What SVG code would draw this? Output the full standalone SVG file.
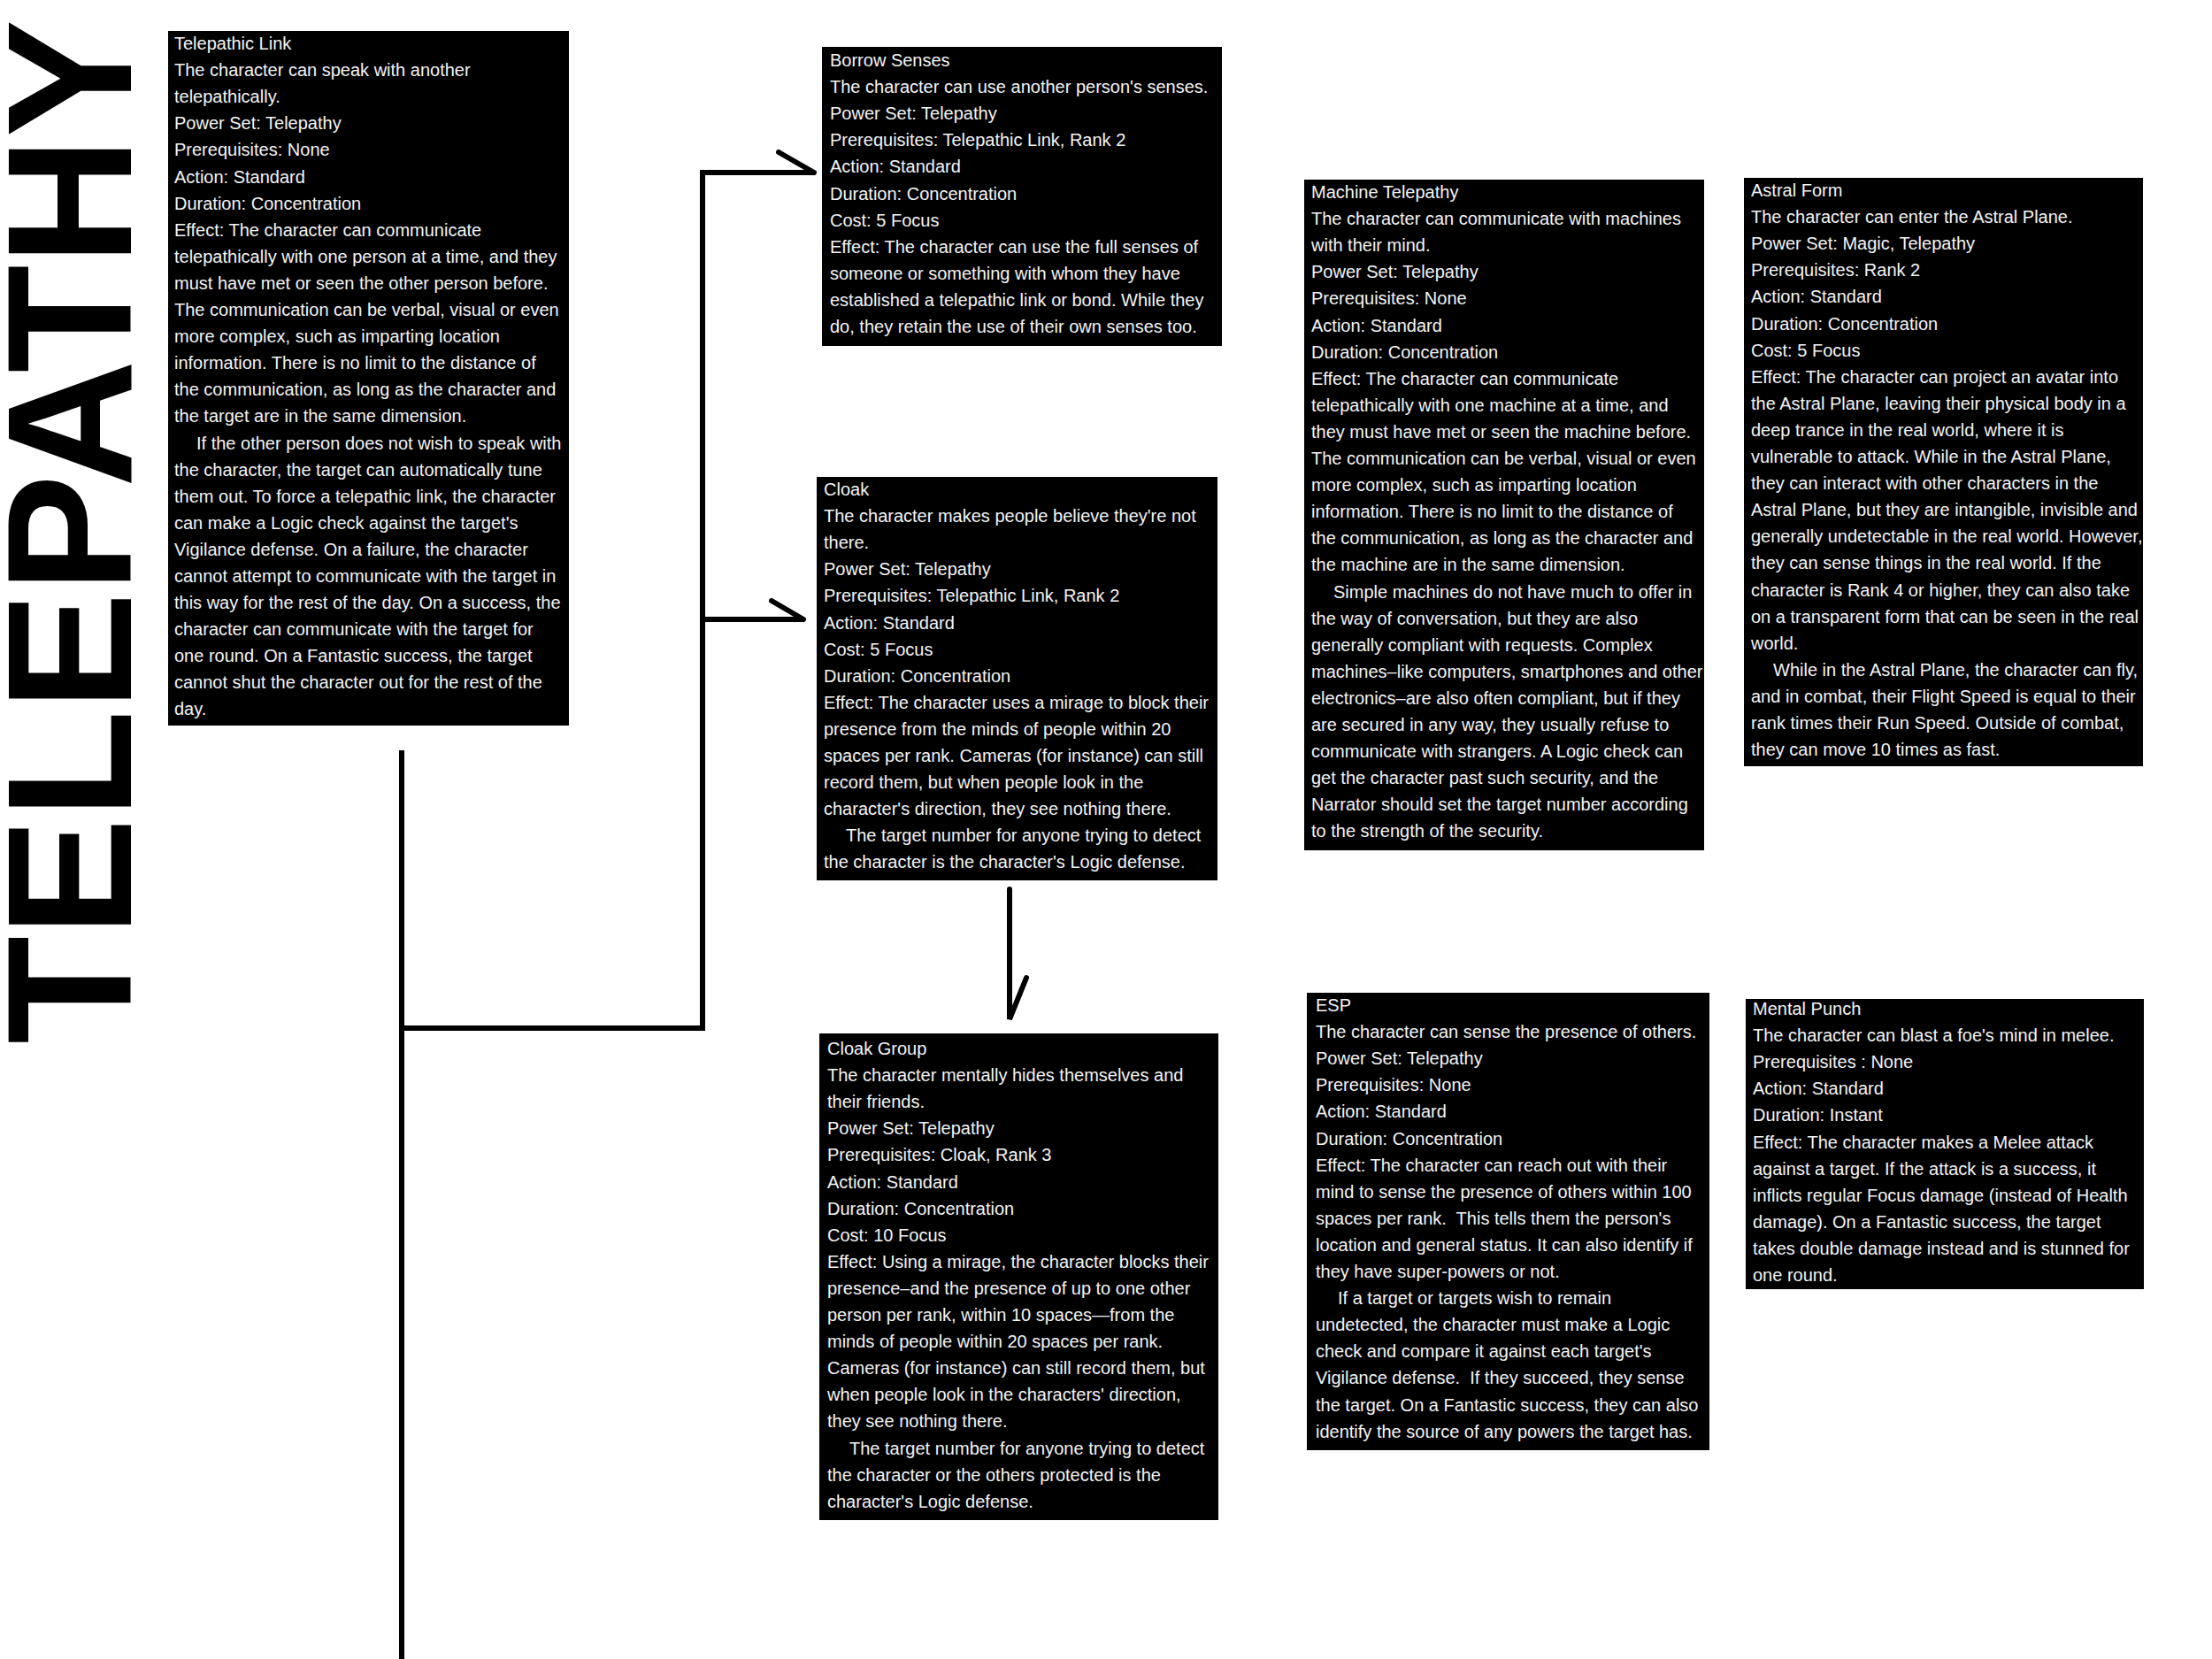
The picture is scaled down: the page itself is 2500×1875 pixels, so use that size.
<svg xmlns="http://www.w3.org/2000/svg" width="2500" height="1875" viewBox="0 0 2500 1875">
<style>
.box{fill:#000}
.t{font-family:"Liberation Sans",Arial,sans-serif;font-size:20px;fill:#f4f4f4}
.title{font-family:"Liberation Sans",Arial,sans-serif;font-size:201px;font-weight:bold;fill:#000}
.c{fill:none;stroke:#000;stroke-width:6;stroke-linejoin:miter}
.b{fill:none;stroke:#000;stroke-width:6;stroke-linecap:round}
</style>
<rect width="2500" height="1875" fill="#fff"/>
<g id="title">
<text class="title" transform="translate(148,1180) rotate(-90)" x="0" y="0" textLength="1158" lengthAdjust="spacingAndGlyphs">TELEPATHY</text>
</g>
<g id="connectors">
<path class="c" d="M454 848 V1875"/>
<path class="c" d="M454 1162 H794 V195 H920"/>
<path class="c" d="M794 700 H908"/>
<path class="b" d="M880 172 L920 195"/>
<path class="b" d="M872 679 L908 700"/>
<path class="b" d="M1141 1005 V1152 L1160 1105"/>
</g>
<g id="telepathic-link">
<rect class="box" x="190" y="35" width="453" height="785"/>
<text class="t" y="56">
<tspan x="197" dy="0">Telepathic Link</tspan>
<tspan x="197" dy="30.1">The character can speak with another</tspan>
<tspan x="197" dy="30.1">telepathically.</tspan>
<tspan x="197" dy="30.1">Power Set: Telepathy</tspan>
<tspan x="197" dy="30.1">Prerequisites: None</tspan>
<tspan x="197" dy="30.1">Action: Standard</tspan>
<tspan x="197" dy="30.1">Duration: Concentration</tspan>
<tspan x="197" dy="30.1">Effect: The character can communicate</tspan>
<tspan x="197" dy="30.1">telepathically with one person at a time, and they</tspan>
<tspan x="197" dy="30.1">must have met or seen the other person before.</tspan>
<tspan x="197" dy="30.1">The communication can be verbal, visual or even</tspan>
<tspan x="197" dy="30.1">more complex, such as imparting location</tspan>
<tspan x="197" dy="30.1">information. There is no limit to the distance of</tspan>
<tspan x="197" dy="30.1">the communication, as long as the character and</tspan>
<tspan x="197" dy="30.1">the target are in the same dimension.</tspan>
<tspan x="222" dy="30.1">If the other person does not wish to speak with</tspan>
<tspan x="197" dy="30.1">the character, the target can automatically tune</tspan>
<tspan x="197" dy="30.1">them out. To force a telepathic link, the character</tspan>
<tspan x="197" dy="30.1">can make a Logic check against the target's</tspan>
<tspan x="197" dy="30.1">Vigilance defense. On a failure, the character</tspan>
<tspan x="197" dy="30.1">cannot attempt to communicate with the target in</tspan>
<tspan x="197" dy="30.1">this way for the rest of the day. On a success, the</tspan>
<tspan x="197" dy="30.1">character can communicate with the target for</tspan>
<tspan x="197" dy="30.1">one round. On a Fantastic success, the target</tspan>
<tspan x="197" dy="30.1">cannot shut the character out for the rest of the</tspan>
<tspan x="197" dy="30.1">day.</tspan>
</text>
</g>
<g id="borrow-senses">
<rect class="box" x="929" y="53" width="452" height="338"/>
<text class="t" y="75">
<tspan x="938" dy="0">Borrow Senses</tspan>
<tspan x="938" dy="30.1">The character can use another person's senses.</tspan>
<tspan x="938" dy="30.1">Power Set: Telepathy</tspan>
<tspan x="938" dy="30.1">Prerequisites: Telepathic Link, Rank 2</tspan>
<tspan x="938" dy="30.1">Action: Standard</tspan>
<tspan x="938" dy="30.1">Duration: Concentration</tspan>
<tspan x="938" dy="30.1">Cost: 5 Focus</tspan>
<tspan x="938" dy="30.1">Effect: The character can use the full senses of</tspan>
<tspan x="938" dy="30.1">someone or something with whom they have</tspan>
<tspan x="938" dy="30.1">established a telepathic link or bond. While they</tspan>
<tspan x="938" dy="30.1">do, they retain the use of their own senses too.</tspan>
</text>
</g>
<g id="cloak">
<rect class="box" x="923" y="539" width="453" height="456"/>
<text class="t" y="560">
<tspan x="931" dy="0">Cloak</tspan>
<tspan x="931" dy="30.1">The character makes people believe they're not</tspan>
<tspan x="931" dy="30.1">there.</tspan>
<tspan x="931" dy="30.1">Power Set: Telepathy</tspan>
<tspan x="931" dy="30.1">Prerequisites: Telepathic Link, Rank 2</tspan>
<tspan x="931" dy="30.1">Action: Standard</tspan>
<tspan x="931" dy="30.1">Cost: 5 Focus</tspan>
<tspan x="931" dy="30.1">Duration: Concentration</tspan>
<tspan x="931" dy="30.1">Effect: The character uses a mirage to block their</tspan>
<tspan x="931" dy="30.1">presence from the minds of people within 20</tspan>
<tspan x="931" dy="30.1">spaces per rank. Cameras (for instance) can still</tspan>
<tspan x="931" dy="30.1">record them, but when people look in the</tspan>
<tspan x="931" dy="30.1">character's direction, they see nothing there.</tspan>
<tspan x="956" dy="30.1">The target number for anyone trying to detect</tspan>
<tspan x="931" dy="30.1">the character is the character's Logic defense.</tspan>
</text>
</g>
<g id="cloak-group">
<rect class="box" x="926" y="1168" width="451" height="550"/>
<text class="t" y="1192">
<tspan x="935" dy="0">Cloak Group</tspan>
<tspan x="935" dy="30.1">The character mentally hides themselves and</tspan>
<tspan x="935" dy="30.1">their friends.</tspan>
<tspan x="935" dy="30.1">Power Set: Telepathy</tspan>
<tspan x="935" dy="30.1">Prerequisites: Cloak, Rank 3</tspan>
<tspan x="935" dy="30.1">Action: Standard</tspan>
<tspan x="935" dy="30.1">Duration: Concentration</tspan>
<tspan x="935" dy="30.1">Cost: 10 Focus</tspan>
<tspan x="935" dy="30.1">Effect: Using a mirage, the character blocks their</tspan>
<tspan x="935" dy="30.1">presence–and the presence of up to one other</tspan>
<tspan x="935" dy="30.1">person per rank, within 10 spaces—from the</tspan>
<tspan x="935" dy="30.1">minds of people within 20 spaces per rank.</tspan>
<tspan x="935" dy="30.1">Cameras (for instance) can still record them, but</tspan>
<tspan x="935" dy="30.1">when people look in the characters' direction,</tspan>
<tspan x="935" dy="30.1">they see nothing there.</tspan>
<tspan x="960" dy="30.1">The target number for anyone trying to detect</tspan>
<tspan x="935" dy="30.1">the character or the others protected is the</tspan>
<tspan x="935" dy="30.1">character's Logic defense.</tspan>
</text>
</g>
<g id="machine-telepathy">
<rect class="box" x="1474" y="203" width="452" height="758"/>
<text class="t" y="224">
<tspan x="1482" dy="0">Machine Telepathy</tspan>
<tspan x="1482" dy="30.1">The character can communicate with machines</tspan>
<tspan x="1482" dy="30.1">with their mind.</tspan>
<tspan x="1482" dy="30.1">Power Set: Telepathy</tspan>
<tspan x="1482" dy="30.1">Prerequisites: None</tspan>
<tspan x="1482" dy="30.1">Action: Standard</tspan>
<tspan x="1482" dy="30.1">Duration: Concentration</tspan>
<tspan x="1482" dy="30.1">Effect: The character can communicate</tspan>
<tspan x="1482" dy="30.1">telepathically with one machine at a time, and</tspan>
<tspan x="1482" dy="30.1">they must have met or seen the machine before.</tspan>
<tspan x="1482" dy="30.1">The communication can be verbal, visual or even</tspan>
<tspan x="1482" dy="30.1">more complex, such as imparting location</tspan>
<tspan x="1482" dy="30.1">information. There is no limit to the distance of</tspan>
<tspan x="1482" dy="30.1">the communication, as long as the character and</tspan>
<tspan x="1482" dy="30.1">the machine are in the same dimension.</tspan>
<tspan x="1507" dy="30.1">Simple machines do not have much to offer in</tspan>
<tspan x="1482" dy="30.1">the way of conversation, but they are also</tspan>
<tspan x="1482" dy="30.1">generally compliant with requests. Complex</tspan>
<tspan x="1482" dy="30.1">machines–like computers, smartphones and other</tspan>
<tspan x="1482" dy="30.1">electronics–are also often compliant, but if they</tspan>
<tspan x="1482" dy="30.1">are secured in any way, they usually refuse to</tspan>
<tspan x="1482" dy="30.1">communicate with strangers. A Logic check can</tspan>
<tspan x="1482" dy="30.1">get the character past such security, and the</tspan>
<tspan x="1482" dy="30.1">Narrator should set the target number according</tspan>
<tspan x="1482" dy="30.1">to the strength of the security.</tspan>
</text>
</g>
<g id="astral-form">
<rect class="box" x="1971" y="201" width="451" height="665"/>
<text class="t" y="222">
<tspan x="1979" dy="0">Astral Form</tspan>
<tspan x="1979" dy="30.1">The character can enter the Astral Plane.</tspan>
<tspan x="1979" dy="30.1">Power Set: Magic, Telepathy</tspan>
<tspan x="1979" dy="30.1">Prerequisites: Rank 2</tspan>
<tspan x="1979" dy="30.1">Action: Standard</tspan>
<tspan x="1979" dy="30.1">Duration: Concentration</tspan>
<tspan x="1979" dy="30.1">Cost: 5 Focus</tspan>
<tspan x="1979" dy="30.1">Effect: The character can project an avatar into</tspan>
<tspan x="1979" dy="30.1">the Astral Plane, leaving their physical body in a</tspan>
<tspan x="1979" dy="30.1">deep trance in the real world, where it is</tspan>
<tspan x="1979" dy="30.1">vulnerable to attack. While in the Astral Plane,</tspan>
<tspan x="1979" dy="30.1">they can interact with other characters in the</tspan>
<tspan x="1979" dy="30.1">Astral Plane, but they are intangible, invisible and</tspan>
<tspan x="1979" dy="30.1">generally undetectable in the real world. However,</tspan>
<tspan x="1979" dy="30.1">they can sense things in the real world. If the</tspan>
<tspan x="1979" dy="30.1">character is Rank 4 or higher, they can also take</tspan>
<tspan x="1979" dy="30.1">on a transparent form that can be seen in the real</tspan>
<tspan x="1979" dy="30.1">world.</tspan>
<tspan x="2004" dy="30.1">While in the Astral Plane, the character can fly,</tspan>
<tspan x="1979" dy="30.1">and in combat, their Flight Speed is equal to their</tspan>
<tspan x="1979" dy="30.1">rank times their Run Speed. Outside of combat,</tspan>
<tspan x="1979" dy="30.1">they can move 10 times as fast.</tspan>
</text>
</g>
<g id="esp">
<rect class="box" x="1477" y="1122" width="455" height="517"/>
<text class="t" y="1143">
<tspan x="1487" dy="0">ESP</tspan>
<tspan x="1487" dy="30.1">The character can sense the presence of others.</tspan>
<tspan x="1487" dy="30.1">Power Set: Telepathy</tspan>
<tspan x="1487" dy="30.1">Prerequisites: None</tspan>
<tspan x="1487" dy="30.1">Action: Standard</tspan>
<tspan x="1487" dy="30.1">Duration: Concentration</tspan>
<tspan x="1487" dy="30.1">Effect: The character can reach out with their</tspan>
<tspan x="1487" dy="30.1">mind to sense the presence of others within 100</tspan>
<tspan x="1487" dy="30.1">spaces per rank.&#160; This tells them the person's</tspan>
<tspan x="1487" dy="30.1">location and general status. It can also identify if</tspan>
<tspan x="1487" dy="30.1">they have super-powers or not.</tspan>
<tspan x="1512" dy="30.1">If a target or targets wish to remain</tspan>
<tspan x="1487" dy="30.1">undetected, the character must make a Logic</tspan>
<tspan x="1487" dy="30.1">check and compare it against each target's</tspan>
<tspan x="1487" dy="30.1">Vigilance defense.&#160; If they succeed, they sense</tspan>
<tspan x="1487" dy="30.1">the target. On a Fantastic success, they can also</tspan>
<tspan x="1487" dy="30.1">identify the source of any powers the target has.</tspan>
</text>
</g>
<g id="mental-punch">
<rect class="box" x="1973" y="1129" width="450" height="328"/>
<text class="t" y="1147">
<tspan x="1981" dy="0">Mental Punch</tspan>
<tspan x="1981" dy="30.1">The character can blast a foe's mind in melee.</tspan>
<tspan x="1981" dy="30.1">Prerequisites : None</tspan>
<tspan x="1981" dy="30.1">Action: Standard</tspan>
<tspan x="1981" dy="30.1">Duration: Instant</tspan>
<tspan x="1981" dy="30.1">Effect: The character makes a Melee attack</tspan>
<tspan x="1981" dy="30.1">against a target. If the attack is a success, it</tspan>
<tspan x="1981" dy="30.1">inflicts regular Focus damage (instead of Health</tspan>
<tspan x="1981" dy="30.1">damage). On a Fantastic success, the target</tspan>
<tspan x="1981" dy="30.1">takes double damage instead and is stunned for</tspan>
<tspan x="1981" dy="30.1">one round.</tspan>
</text>
</g>
</svg>
